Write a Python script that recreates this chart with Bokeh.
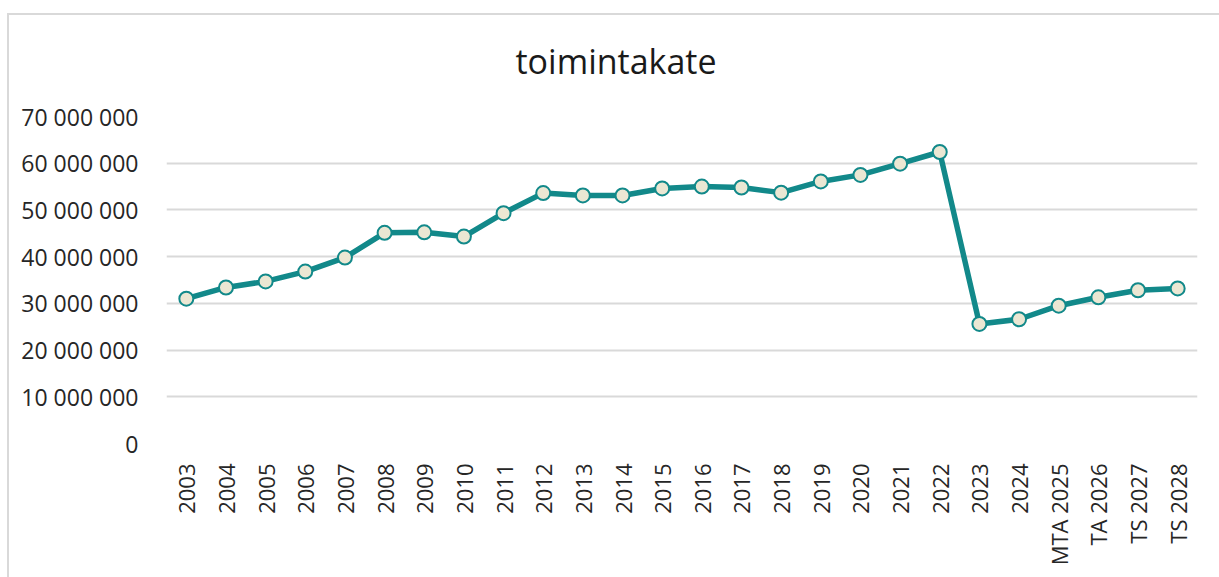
import math
from bokeh.plotting import figure
from bokeh.models import Range1d, FactorRange, CustomJSTickFormatter, FixedTicker, Title
from bokeh.embed import file_html
from bokeh.resources import INLINE

categories = ["2003", "2004", "2005", "2006", "2007", "2008", "2009", "2010", "2011", "2012",
              "2013", "2014", "2015", "2016", "2017", "2018", "2019", "2020", "2021", "2022",
              "2023", "2024", "MTA 2025", "TA 2026", "TS 2027", "TS 2028"]
values = [31.0e6, 33.4e6, 34.7e6, 36.8e6, 39.8e6, 45.1e6, 45.2e6, 44.3e6, 49.3e6, 53.6e6,
          53.1e6, 53.1e6, 54.6e6, 55.0e6, 54.8e6, 53.7e6, 56.1e6, 57.5e6, 59.9e6, 62.4e6,
          25.6e6, 26.6e6, 29.5e6, 31.3e6, 32.8e6, 33.2e6]
y_ticks = [0, 10e6, 20e6, 30e6, 40e6, 50e6, 60e6, 70e6]
title_text = "toimintakate"

FONT = "Open Sans"

p = figure(x_range=FactorRange(*categories, range_padding=0), y_range=Range1d(0, 70e6),
           width=1212, height=564, output_backend="svg", toolbar_location=None,
           min_border_left=157, min_border_right=24, min_border_top=101, min_border_bottom=136,
           title=title_text)
p.styles = {"border-top": "2px solid #d9d9d9", "border-left": "2px solid #d9d9d9"}
p.margin = (13, 0, 0, 7)

p.line(categories, values, line_color="#12898a", line_width=5.5)
p.scatter(categories, values, size=14, fill_color="#ebe7d3", line_color="#12898a", line_width=2)

p.title.text_font = FONT
p.title.text_font_size = "34px"
p.title.text_font_style = "normal"
p.title.text_color = "#1a1a1a"
p.title.align = "left"
p.title.offset = 349
p.title.standoff = 10

spacer = Title(text=" ", text_font_size="2px", standoff=24)
p.add_layout(spacer, "above")

p.outline_line_color = None
p.xgrid.grid_line_color = None
p.ygrid.grid_line_color = "#d9d9d9"
p.ygrid.grid_line_width = 2
p.yaxis.ticker = FixedTicker(ticks=y_ticks)
p.yaxis.formatter = CustomJSTickFormatter(code="""
return Math.round(tick).toString().replace(/\\B(?=(\\d{3})+(?!\\d))/g, ' ');
""")
for ax in (p.xaxis, p.yaxis):
    ax.axis_line_color = None
    ax.major_tick_line_color = None
    ax.minor_tick_line_color = None
    ax.major_label_text_font = FONT
    ax.major_label_text_font_size = "22px"
    ax.major_label_text_color = "#262626"
p.yaxis.major_label_text_font_size = "23px"
p.yaxis.major_label_standoff = 22
p.xaxis.major_label_orientation = math.pi / 2
p.xaxis.major_label_standoff = 14

open("out.html", "w").write(file_html(p, INLINE))
